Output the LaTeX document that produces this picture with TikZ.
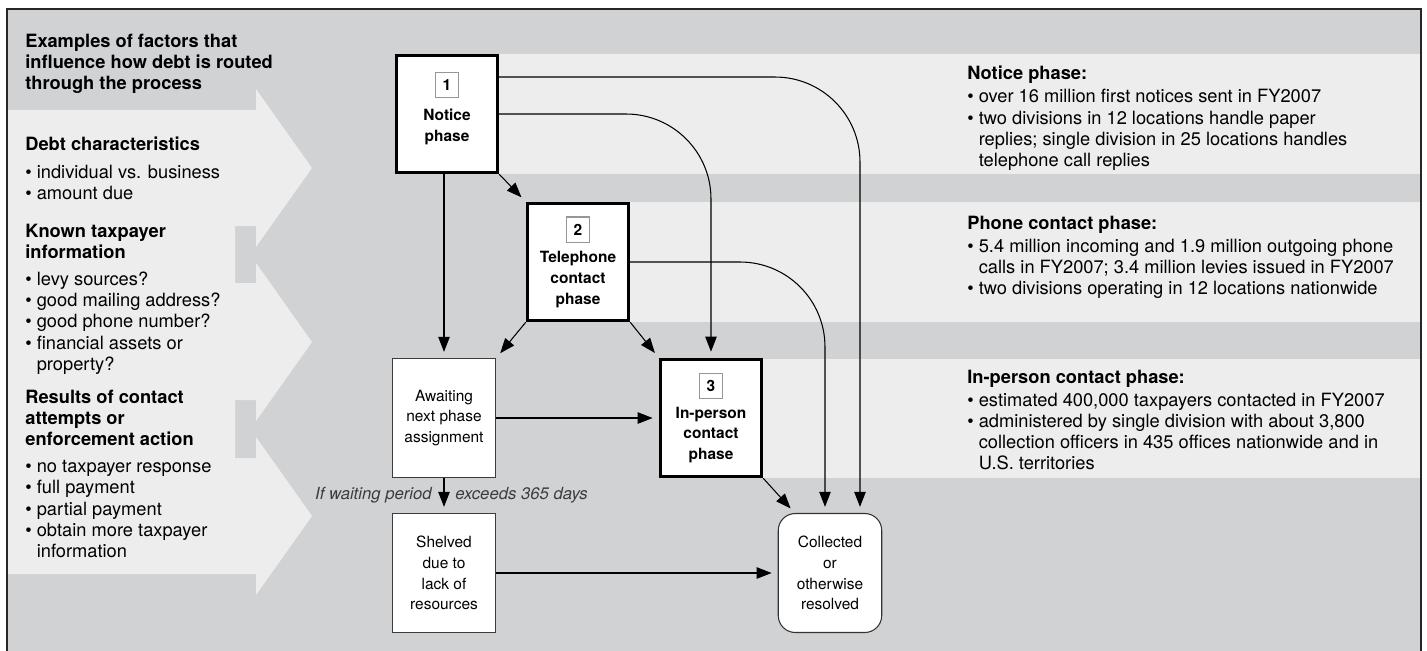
\documentclass[tikz,border=0pt]{standalone}
\usepackage{fontspec}
\setmainfont{TeX Gyre Heros}
\usetikzlibrary{positioning,calc,arrows.meta}
\definecolor{bgdark}{RGB}{209,210,212}
\definecolor{bglight}{RGB}{237,237,237}
\definecolor{numgray}{RGB}{150,150,150}
\definecolor{inkgray}{RGB}{60,60,60}
\newcommand{\bul}{\textbullet\ }
\newcommand{\cont}{\hphantom{\textbullet\ }}
\newcommand{\phasenum}[1]{{\fboxsep=2.5pt\fboxrule=0.6pt\fcolorbox{numgray}{white}{\makebox[7.5pt]{\rule[-1.2pt]{0pt}{8.7pt}#1}}}}
\tikzset{
  phase/.style={draw, line width=1.7pt, fill=white, minimum width=2.03cm, minimum height=2.35cm, inner sep=1pt, align=center, font=\fontsize{8.8}{11.8}\selectfont\bfseries},
  holdbox/.style={draw=inkgray, line width=0.6pt, fill=white, minimum width=2.07cm, minimum height=2.38cm, inner sep=1pt, align=center, font=\fontsize{8.8}{11.8}\selectfont},
  infotext/.style={anchor=north west, inner sep=0pt, align=left, font=\fontsize{10.4}{12}\selectfont},
  conn/.style={line width=0.6pt, -{Triangle[length=8.5pt,width=6.5pt]}, shorten >=3.5pt},
  waitlbl/.style={inner sep=0pt, font=\fontsize{9.5}{11}\selectfont\itshape, text=inkgray}
}

\begin{document}
\begin{tikzpicture}[x=0.02cm, y=-0.02cm]
  \useasboundingbox (0,0) rectangle (1427,650);
  \clip (0,0) rectangle (1427,650);
  % ------------------------------------------------------------ background
  \fill[white] (0,0) rectangle (1427,650);
  \fill[bgdark] (7,9) rectangle (1421,660);
  \fill[bglight] (7,110) -- (256,110) -- (256,89) -- (312,168) -- (256,247) -- (256,226) -- (235,226) -- (235,283)
    -- (256,283) -- (256,263) -- (312,342) -- (256,421) -- (256,400) -- (235,400) -- (235,458) -- (256,458)
    -- (256,437) -- (312,516) -- (256,595) -- (256,574) -- (7,574) -- cycle;
  \foreach \xa/\ya/\yb in {447/54/174, 578/202/322, 711/359/478} {\fill[bglight] (\xa,\ya) rectangle (1421,\yb);}
  \draw[line width=0.8pt, black!85] (7,9) rectangle (1421,660);
  % ------------------------------------------------------------ factors
  \node[infotext, font=\fontsize{10.4}{12}\selectfont\bfseries] (factors) at (25,34) {Examples of factors that\\influence how debt is routed\\through the process};
  \node[infotext] (debt) at (25,137) {\textbf{Debt characteristics}\\[3.4pt]\bul individual vs. business\\\bul amount due};
  \node[infotext] (known) at (25,224) {\textbf{Known taxpayer}\\\textbf{information}\\[3.4pt]\bul levy sources?\\\bul good mailing address?\\\bul good phone number?\\\bul financial assets or\\\cont property?};
  \node[infotext] (results) at (25,390) {\textbf{Results of contact}\\\textbf{attempts or}\\\textbf{enforcement action}\\[3.4pt]\bul no taxpayer response\\\bul full payment\\\bul partial payment\\\bul obtain more taxpayer\\\cont information};
  % ------------------------------------------------------------ phase notes
  \node[infotext] (noticeinfo) at (967,66) {\textbf{Notice phase:}\\[1.1pt]\bul over 16 million first notices sent in FY2007\\\bul two divisions in 12 locations handle paper\\\cont replies; single division in 25 locations handles\\\cont telephone call replies};
  \node[infotext] (phoneinfo) at (967,216) {\textbf{Phone contact phase:}\\[1.1pt]\bul 5.4 million incoming and 1.9 million outgoing phone\\\cont calls in FY2007; 3.4 million levies issued in FY2007\\\bul two divisions operating in 12 locations nationwide};
  \node[infotext] (inpersoninfo) at (967,370) {\textbf{In-person contact phase:}\\[1.1pt]\bul estimated 400,000 taxpayers contacted in FY2007\\\bul administered by single division with about 3,800\\\cont collection officers in 435 offices nationwide and in\\\cont U.S. territories};
  % ------------------------------------------------------------ boxes
  \node[phase, text depth=8.5pt] (notice) at (447,114) {\phasenum{1}\\[5.5pt]Notice\\phase};
  \node[phase] (phone) at (578,262) {\phasenum{2}\\[3.9pt]Telephone\\contact\\phase};
  \node[phase] (inperson) at (711,418) {\phasenum{3}\\[3.2pt]In-person\\contact\\phase};
  \node[holdbox] (awaiting) at (444,418) {Awaiting\\next phase\\assignment};
  \node[holdbox] (shelved) at (444,573) {Shelved\\due to\\lack of\\resources};
  \node[holdbox, draw=black!80, rounded corners=0.34cm] (collected) at (830,573) {Collected\\or\\otherwise\\resolved};
  % ------------------------------------------------------------ connectors
  \draw[conn] (notice.south east) -- (phone.north west);
  \draw[conn] (awaiting.north |- notice.south) -- (awaiting.north);
  \draw[conn] (phone.south west) -- (awaiting.north east);
  \draw[conn] (phone.south east) -- (inperson.north west);
  \draw[conn] (awaiting.east) -- (inperson.west);
  \draw[conn] (awaiting.south) -- (shelved.north);
  \draw[conn] (shelved.east) -- (collected.west);
  \draw[conn] (inperson.south east) -- ([xshift=0.34cm]collected.north west);
  \draw[conn, rounded corners=1.7cm] (notice.east) -| (inperson.north);
  \draw[conn, rounded corners=1.7cm] ([yshift=0.74cm]notice.east) -| ([xshift=0.6cm]collected.north);
  \draw[conn, rounded corners=1.7cm] (phone.east) -| ([xshift=-0.1cm]collected.north);
  \path (awaiting.south) -- (shelved.north) coordinate[midway] (waitmid);
  \node[waitlbl, anchor=east] (waitleft) at ([xshift=-0.24cm]waitmid) {If waiting period};
  \node[waitlbl, anchor=west] (waitright) at ([xshift=0.22cm]waitmid) {exceeds 365 days};
\end{tikzpicture}
\end{document}
